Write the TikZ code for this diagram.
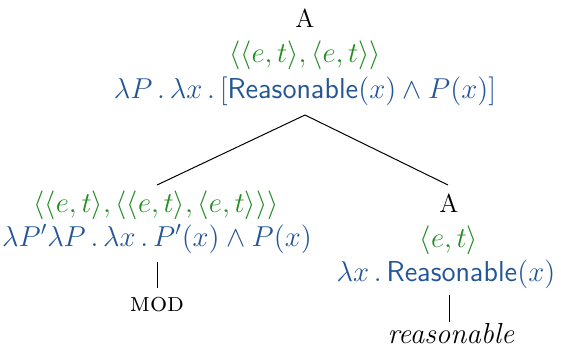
\documentclass[tikz,border=0pt]{standalone}
\usepackage{amsmath}
\definecolor{tgreen}{RGB}{34,139,34}
\definecolor{tblue}{RGB}{36,86,150}
\tikzset{
  lbl/.style={anchor=base, inner sep=0pt, font=\fontsize{13}{15}\selectfont},
  mth/.style={anchor=base, inner sep=0pt, font=\fontsize{15.2}{18}\selectfont},
  typ/.style={mth, text=tgreen},
  sem/.style={mth, text=tblue},
  br/.style={draw=black, line width=0.5pt}
}
\begin{document}
\begin{tikzpicture}[x=0.5pt,y=-0.5pt]
\useasboundingbox (0,0) rectangle (561,350);
% root
\node[lbl] (r1) at (305,27) {A};
\node[typ] (r2) at (305,62) {$\langle\langle e,t\rangle,\langle e,t\rangle\rangle$};
\node[sem] (r3) at (305,98) {$\lambda P\,.\,\lambda x\,.\,[\mathsf{Reasonable}(x)\wedge P(x)]$};
% left child
\node[typ] (l1) at (156,212) {$\langle\langle e,t\rangle,\langle\langle e,t\rangle,\langle e,t\rangle\rangle\rangle$};
\node[sem,font=\fontsize{14.6}{18}\selectfont] (l2) at (157,246) {$\lambda P'\lambda P\,.\,\lambda x\,.\,P'(x)\wedge P(x)$};
\node[lbl,font=\fontsize{13.5}{16}\selectfont] (l3) at (157,311) {\textsc{mod}};
% right child
\node[lbl] (m1) at (449,212) {A};
\node[typ] (m2) at (449,247) {$\langle e,t\rangle$};
\node[sem] (m3) at (446,281) {$\lambda x\,.\,\mathsf{Reasonable}(x)$};
\node[lbl,font=\fontsize{14.5}{16}\selectfont] (m4) at (451,343) {\textit{reasonable}};
% branch end points
\coordinate (rs) at (305,115);
\coordinate (ln) at (157,185);
\coordinate (rn) at (448,185);
\coordinate (ls) at (157,262);
\coordinate (lm) at (157,288);
\coordinate (ms) at (449,295);
\coordinate (mm) at (449,322);
\draw[br] (rs) -- (ln);
\draw[br] (rs) -- (rn);
\draw[br] (ls) -- (lm);
\draw[br] (ms) -- (mm);
\end{tikzpicture}
\end{document}
